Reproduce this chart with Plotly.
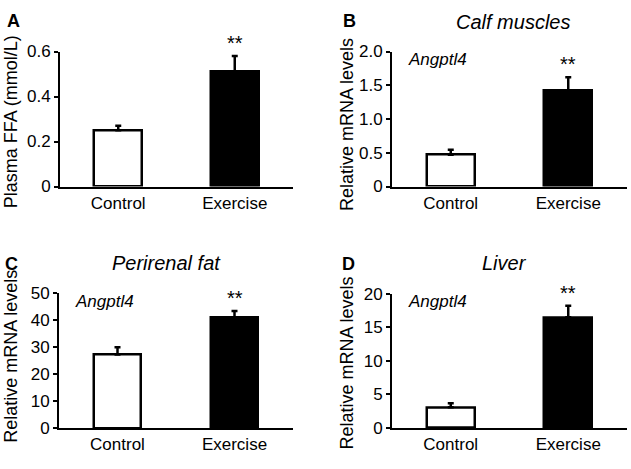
import plotly.graph_objects as go

W, H = 631, 469

groups = ["Control", "Exercise"]

ffa_mean = [0.25, 0.51]
ffa_err = [0.02, 0.07]

calf_mean = [0.47, 1.42]
calf_err = [0.075, 0.20]

peri_mean = [27.3, 41.1]
peri_err = [2.7, 2.4]

liver_mean = [3.1, 16.5]
liver_err = [0.6, 1.7]

y_ranges = [[0, 0.6], [0, 2.0], [0, 50], [0, 20]]
y_ticks = [
    ([0, 0.2, 0.4, 0.6], ["0", "0.2", "0.4", "0.6"]),
    ([0, 0.5, 1.0, 1.5, 2.0], ["0", "0.5", "1.0", "1.5", "2.0"]),
    ([0, 10, 20, 30, 40, 50], ["0", "10", "20", "30", "40", "50"]),
    ([0, 5, 10, 15, 20], ["0", "5", "10", "15", "20"]),
]
y_titles = ["Plasma FFA (mmol/L)", "Relative mRNA levels", "Relative mRNA levels", "Relative mRNA levels"]
panel_titles = ["", "Calf muscles", "Perirenal fat", "Liver"]
letters = ["A", "B", "C", "D"]
gene = ["", "Angptl4", "Angptl4", "Angptl4"]

FONT = "Liberation Sans, Arial, sans-serif"

# pixel boxes (left, right, top, bottom)
boxes = [(60, 293, 44.3, 185), (392, 627, 44.3, 185), (59, 293, 296.5, 436.7), (392, 627, 296.7, 436.7)]
ytitle_pos = [(11, 118), (347, 121), (11, 362.5), (347, 369.5)]
letter_pos = [(13, 12), (349.5, 13), (11.5, 266), (348.5, 266)]
title_pos = [(0, 0), (512.5, 13.5), (166.5, 265), (504.5, 264.5)]

def px(xp):
    return xp / W

def py(yp):
    return 1 - yp / H

fig = go.Figure()
series = [(ffa_mean, ffa_err), (calf_mean, calf_err), (peri_mean, peri_err), (liver_mean, liver_err)]
annotations = []
for i, (m, e) in enumerate(series):
    k = "" if i == 0 else str(i + 1)
    fig.add_trace(go.Bar(
        x=[0, 1], y=m,
        width=0.41,
        marker=dict(color=["white", "black"], line=dict(color="black", width=2.5)),
        error_y=dict(type="data", array=e, arrayminus=[0, 0], symmetric=False,
                     color="black", thickness=2.5, width=3),
        xaxis="x" + k, yaxis="y" + k, showlegend=False,
    ))
    l, r, t, b = boxes[i]
    fig.layout["xaxis" + k] = dict(
        domain=[px(l), px(r)], range=[-0.5, 1.5], anchor="y" + k,
        tickvals=[0, 1], ticktext=groups, ticks="", showline=True, linecolor="black",
        linewidth=2, showgrid=False, zeroline=False, fixedrange=True,
        tickfont=dict(family=FONT, size=17, color="black"),
    )
    tv, tt = y_ticks[i]
    fig.layout["yaxis" + k] = dict(
        domain=[py(b), py(t)], range=y_ranges[i], anchor="x" + k,
        tickvals=tv, ticktext=tt, ticks="outside", ticklen=4, tickwidth=2, tickcolor="black",
        showline=True, linecolor="black", linewidth=2, showgrid=False, zeroline=False,
        tickfont=dict(family=FONT, size=17, color="black"),
    )
    # significance asterisks
    annotations.append(dict(x=1, y=m[1] + e[1], xref="x" + k, yref="y" + k, text="**",
                            showarrow=False, yanchor="bottom", yshift=0,
                            font=dict(family=FONT, size=20, color="black")))
    # y-axis title
    xt, yt = ytitle_pos[i]
    annotations.append(dict(x=px(xt), y=py(yt), xref="paper", yref="paper", text=y_titles[i],
                            textangle=-90, showarrow=False, xanchor="center", yanchor="middle",
                            font=dict(family=FONT, size=18, color="black")))
    # panel letter
    xl, yl = letter_pos[i]
    annotations.append(dict(x=px(xl), y=py(yl), xref="paper", yref="paper", text="<b>" + letters[i] + "</b>",
                            showarrow=False, xanchor="center", yanchor="middle",
                            font=dict(family=FONT, size=18, color="black")))
    if panel_titles[i]:
        xt2, yt2 = title_pos[i]
        annotations.append(dict(x=px(xt2), y=py(yt2), xref="paper", yref="paper",
                                text="<i>" + panel_titles[i] + "</i>",
                                showarrow=False, xanchor="center", yanchor="middle",
                                font=dict(family=FONT, size=20, color="black")))
    if gene[i]:
        annotations.append(dict(x=px(l + 14), y=py(t + 8), xref="paper", yref="paper",
                                text="<i>" + gene[i] + "</i>",
                                showarrow=False, xanchor="left", yanchor="middle",
                                font=dict(family=FONT, size=17, color="black")))

fig.update_layout(
    width=W, height=H, margin=dict(l=0, r=0, t=0, b=0),
    paper_bgcolor="white", plot_bgcolor="white",
    annotations=annotations, bargap=0,
)
fig.write_html("out.html", config={"displayModeBar": False},
               post_script="document.body.style.margin='0px';")
